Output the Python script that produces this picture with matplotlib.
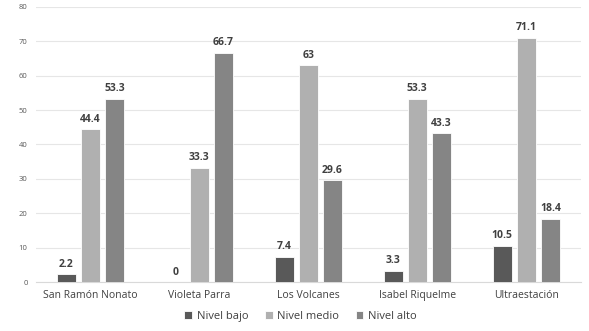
import matplotlib
matplotlib.use("Agg")
import matplotlib.pyplot as plt
import numpy as np

categories = ["San Ramón Nonato", "Violeta Parra", "Los Volcanes", "Isabel Riquelme", "Ultraestación"]
series_names = ["Nivel bajo", "Nivel medio", "Nivel alto"]
bajo = [2.2, 0, 7.4, 3.3, 10.5]
medio = [44.4, 33.3, 63, 53.3, 71.1]
alto = [53.3, 66.7, 29.6, 43.3, 18.4]
labels_bajo = ["2.2", "0", "7.4", "3.3", "10.5"]
labels_medio = ["44.4", "33.3", "63", "53.3", "71.1"]
labels_alto = ["53.3", "66.7", "29.6", "43.3", "18.4"]
yticks = [0, 10, 20, 30, 40, 50, 60, 70, 80]

plt.rcParams['font.family'] = ['Open Sans', 'DejaVu Sans']

fig = plt.figure(figsize=(5.89, 3.31), dpi=100)
ax = fig.add_axes([0.061, 0.148, 0.925, 0.831])

colors = ["#595959", "#b0b0b0", "#858585"]
x = np.arange(len(categories))
w = 0.175
step = 0.222
for i, (vals, labs) in enumerate(zip([bajo, medio, alto], [labels_bajo, labels_medio, labels_alto])):
    pos = x + (i - 1) * step
    bars = ax.bar(pos, vals, width=w, color=colors[i], edgecolor="white", linewidth=0.6,
                  label=series_names[i], zorder=3)
    for p, v, l in zip(pos, vals, labs):
        ax.text(p, v + 1.3, l, ha="center", va="bottom", fontsize=7.5, fontweight="bold",
                color="#404040")

ax.set_xlim(-0.5, len(categories) - 0.5)
ax.set_ylim(0, 80)
ax.set_yticks(yticks)
ax.set_yticklabels([str(t) for t in yticks], fontsize=5.5, color="#595959")
ax.set_xticks(x)
ax.set_xticklabels(categories, fontsize=7.5, color="#404040")
ax.tick_params(axis="both", length=0)
ax.tick_params(axis="x", pad=6)
ax.tick_params(axis="y", pad=6)
ax.grid(axis="y", color="#e6e6e6", linewidth=0.8, zorder=0)
for s in ["top", "right", "left"]:
    ax.spines[s].set_visible(False)
ax.spines["bottom"].set_color("#d9d9d9")

leg = fig.legend(loc="center", bbox_to_anchor=(0.51, 0.043), ncol=3, frameon=False,
                 fontsize=8, handlelength=0.7, handleheight=0.7, handletextpad=0.4,
                 columnspacing=1.5)
for t in leg.get_texts():
    t.set_color("#404040")

fig.savefig("out.png", dpi=100, facecolor="white")
